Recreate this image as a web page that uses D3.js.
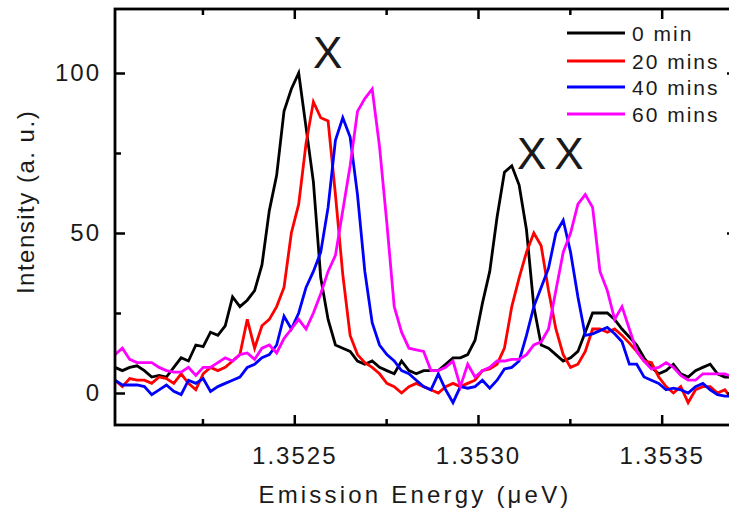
<!DOCTYPE html>
<html>
<head>
<meta charset="utf-8">
<script src="https://cdn.jsdelivr.net/npm/d3@7"></script>
<style>
  body { margin: 0; background: #fff; }
  svg text { font-family: "Liberation Sans", Arial, sans-serif; fill: #1a1a1a; }
</style>
</head>
<body>
<div id="chart"></div>
<script>
// emission energy (eV), shared by all four spectra
var energies = [
  1.352012, 1.352032, 1.352052, 1.352072, 1.352092, 1.352112, 1.352132, 1.352152, 1.352172, 1.352192,
  1.352212, 1.352232, 1.352252, 1.352272, 1.352292, 1.352312, 1.352332, 1.352352, 1.352372, 1.352392,
  1.352412, 1.352432, 1.352452, 1.352472, 1.352492, 1.352512, 1.352532, 1.352552, 1.352572, 1.352592,
  1.352612, 1.352632, 1.352652, 1.352672, 1.352692, 1.352712, 1.352732, 1.352752, 1.352772, 1.352792,
  1.352812, 1.352832, 1.352852, 1.352872, 1.352892, 1.352912, 1.352932, 1.352952, 1.352972, 1.352992,
  1.353012, 1.353032, 1.353052, 1.353072, 1.353092, 1.353112, 1.353132, 1.353152, 1.353172, 1.353192,
  1.353212, 1.353232, 1.353252, 1.353272, 1.353292, 1.353312, 1.353332, 1.353352, 1.353372, 1.353392,
  1.353412, 1.353432, 1.353452, 1.353472, 1.353492, 1.353512, 1.353532, 1.353552, 1.353572, 1.353592,
  1.353612, 1.353632, 1.353652, 1.353672, 1.353692, 1.353712
];

var min0 = [8, 7, 8, 8.5, 7, 5, 5.5, 5, 8, 11,
  10, 15, 14.5, 19, 18, 21, 30, 27, 29, 32,
  40, 57, 68, 88, 95, 100, 83, 66, 36, 23,
  15, 14, 13, 10, 9, 10, 8, 7, 6, 10,
  7, 6, 7, 7, 7, 9, 11, 11, 12, 16.5,
  28, 38, 55, 69, 71, 65, 51, 27, 15, 14,
  12, 10, 11, 13, 19, 25, 25, 25, 23, 20,
  17.5, 15, 11, 8, 6, 7, 9, 6, 5, 7,
  8, 9, 6, 5, 5, 4];

var min20 = [4, 2, 4.5, 4, 4, 3, 5, 4.5, 3, 6,
  3, 1, 6, 8, 7, 8, 10, 12, 23, 14,
  21, 23, 27, 33, 50, 59, 78, 91, 86, 85,
  62, 37, 18, 12, 9.5, 8, 6, 3, 2, 0,
  2, 3, 2, 1, 0, 2, 3, 2, 3, 4,
  7, 7.5, 9, 14, 27, 36, 44, 50, 46, 32,
  20, 12, 8, 9, 13, 20, 20, 19, 20, 18,
  15.6, 13, 10, 9.5, 5, 2, 0, 2, -3, 1,
  2, 2, 0, 1, -2, -1];

var min40 = [4, 2.5, 2.5, 2.5, 2, -0.5, 1, 2.5, 0.5, -0.5,
  4, 3, 4.5, 0.5, 2, 3, 4, 5, 8, 9,
  11, 12, 15, 24, 20, 25, 33, 38, 44, 58,
  79, 86, 80, 62, 38, 22, 15, 12, 10, 7,
  6, 4, 2, 1, 6, 1, -3, 2, 1.5, 2,
  4, 1.5, 4, 7.5, 8, 10, 18, 27, 33, 39,
  50, 54, 44, 30, 18, 18.5, 19.5, 20.5, 18.5, 16,
  9, 9, 5, 4, 3, 1, 1.5, 1, 0, 2,
  3, 1, -0.5, -1, -1, -1.5];

var min60 = [12, 14, 10.5, 9.5, 9.5, 9.5, 8, 7, 6.5, 6.5,
  8, 5.5, 8, 8, 9.5, 11, 10, 12, 12.5, 10.5,
  14, 15, 12.5, 17, 20, 23, 20, 25, 31, 38,
  43, 57, 71, 88, 92, 95, 77, 53, 27, 19,
  14, 13.5, 13, 7, 7, 8, 10, 2, 9, 5,
  7, 8, 10, 10, 10.5, 10.5, 12, 15, 16, 20,
  32, 44, 50, 59, 62, 58, 38, 32, 23, 27,
  20, 13, 10, 7.5, 8, 9.5, 8, 5.5, 4, 4,
  6, 6, 6, 6, 5, 5];

var seriesNames = ['0 min', '20 mins', '40 mins', '60 mins'];
var seriesColors = ['#000000', '#ff0000', '#0000ff', '#ff00ff'];
var seriesValues = [min0, min20, min40, min60];

var xTicks = [1.3525, 1.3530, 1.3535];
var xMinorTicks = [1.35225, 1.35275, 1.35325];
var yTicks = [0, 50, 100];
var yMinorTicks = [25, 75];

function drawChart() {
  var width = 729, height = 516;
  var plotLeft = 115, plotTop = 9, plotRight = 737, plotBottom = 425;

  var svg = d3.select('#chart').append('svg')
    .attr('width', width)
    .attr('height', height);

  var x = d3.scaleLinear().domain([1.352012, 1.353705]).range([plotLeft, plotRight]);
  var y = d3.scaleLinear().domain([-10, 120]).range([plotBottom, plotTop]);

  svg.append('clipPath').attr('id', 'plot')
    .append('rect')
    .attr('x', plotLeft).attr('y', plotTop)
    .attr('width', plotRight - plotLeft).attr('height', plotBottom - plotTop);

  // spectra
  var line = d3.line()
    .x(function(d, i) { return x(energies[i]); })
    .y(function(d) { return y(d); });

  var plot = svg.append('g').attr('clip-path', 'url(#plot)');
  seriesValues.forEach(function(vals, k) {
    plot.append('path')
      .datum(vals)
      .attr('d', line)
      .attr('fill', 'none')
      .attr('stroke', seriesColors[k])
      .attr('stroke-width', 2.8)
      .attr('stroke-linejoin', 'miter');
  });

  // axes, ticks pointing inward
  function styleAxis(g) {
    g.select('.domain').remove();
    g.selectAll('.tick line').attr('stroke', '#000').attr('stroke-width', 2.5);
    g.selectAll('.tick text')
      .style('font-size', '24px')
      .style('letter-spacing', '2px')
      .attr('fill', '#1a1a1a');
  }

  svg.append('g')
    .attr('transform', 'translate(0,' + plotBottom + ')')
    .call(d3.axisBottom(x).tickValues(xTicks).tickSize(-10).tickPadding(22).tickFormat(d3.format('.4f')))
    .call(styleAxis);
  svg.append('g')
    .attr('transform', 'translate(0,' + plotBottom + ')')
    .call(d3.axisBottom(x).tickValues(xMinorTicks).tickSize(-6).tickFormat(''))
    .call(styleAxis);
  svg.append('g')
    .attr('transform', 'translate(0,' + plotTop + ')')
    .call(d3.axisTop(x).tickValues(xTicks).tickSize(-10).tickFormat(''))
    .call(styleAxis);
  svg.append('g')
    .attr('transform', 'translate(0,' + plotTop + ')')
    .call(d3.axisTop(x).tickValues(xMinorTicks).tickSize(-6).tickFormat(''))
    .call(styleAxis);

  svg.append('g')
    .attr('transform', 'translate(' + plotLeft + ',0)')
    .call(d3.axisLeft(y).tickValues(yTicks).tickSize(-10).tickPadding(14))
    .call(styleAxis);
  svg.append('g')
    .attr('transform', 'translate(' + plotLeft + ',0)')
    .call(d3.axisLeft(y).tickValues(yMinorTicks).tickSize(-6).tickFormat(''))
    .call(styleAxis);
  svg.append('g')
    .attr('transform', 'translate(' + plotRight + ',0)')
    .call(d3.axisRight(y).tickValues(yTicks).tickSize(-10).tickFormat(''))
    .call(styleAxis);
  svg.append('g')
    .attr('transform', 'translate(' + plotRight + ',0)')
    .call(d3.axisRight(y).tickValues(yMinorTicks).tickSize(-6).tickFormat(''))
    .call(styleAxis);

  // frame
  svg.append('rect')
    .attr('x', plotLeft).attr('y', plotTop)
    .attr('width', plotRight - plotLeft).attr('height', plotBottom - plotTop)
    .attr('fill', 'none')
    .attr('stroke', '#000')
    .attr('stroke-width', 2.8);

  // axis titles
  svg.append('text')
    .attr('x', 415)
    .attr('y', 503)
    .attr('text-anchor', 'middle')
    .style('font-size', '24px')
    .style('letter-spacing', '3.2px')
    .text('Emission Energy (\u03bceV)');

  svg.append('text')
    .attr('transform', 'translate(34,202) rotate(-90)')
    .attr('text-anchor', 'middle')
    .style('font-size', '24px')
    .style('letter-spacing', '1.5px')
    .text('Intensity (a. u.)');

  // peak labels
  svg.append('text')
    .attr('x', 313).attr('y', 68)
    .style('font-size', '44px')
    .attr('fill', '#000')
    .text('X');
  svg.append('text')
    .attr('x', 517).attr('y', 169)
    .style('font-size', '44px')
    .style('letter-spacing', '8px')
    .attr('fill', '#000')
    .text('XX');

  // legend
  var legendY = [33, 61, 87, 114];
  var legend = svg.append('g');
  seriesNames.forEach(function(name, k) {
    legend.append('line')
      .attr('x1', 567).attr('x2', 625)
      .attr('y1', legendY[k]).attr('y2', legendY[k])
      .attr('stroke', seriesColors[k])
      .attr('stroke-width', 3);
    legend.append('text')
      .attr('x', 632).attr('y', legendY[k] + 7.5)
      .style('font-size', '21px')
      .style('letter-spacing', '2px')
      .text(name);
  });
}

drawChart();
</script>
</body>
</html>
